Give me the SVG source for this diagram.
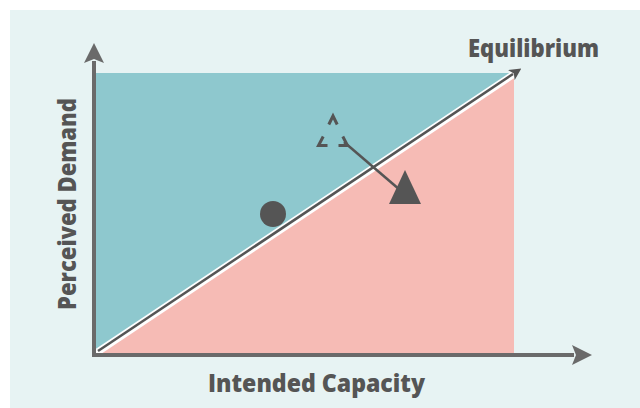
<svg xmlns="http://www.w3.org/2000/svg" width="640" height="408" viewBox="0 0 640 408">
  <defs>
    <style>
      .lbl { font-family: "Open Sans", "Liberation Sans", sans-serif; font-weight: 800; font-size: 24px; fill: #555555; }
      .axis { stroke: #6a6a6a; stroke-width: 4; fill: none; }
      .dark { fill: #555555; }
      .chev { stroke: #555555; stroke-width: 3; fill: none; stroke-linejoin: miter; }
    </style>
    <marker id="axhead" markerUnits="userSpaceOnUse" viewBox="0 0 20 20" refX="2" refY="10" markerWidth="20" markerHeight="20" orient="auto-start-reverse">
      <path d="M0,0 L20,10 L0,20 L4,10 Z" fill="#6a6a6a"/>
    </marker>
    <marker id="eqhead" markerUnits="userSpaceOnUse" viewBox="0 0 12 12" refX="2" refY="6" markerWidth="12" markerHeight="12" orient="auto">
      <path d="M0,0 L12,6 L0,12 L3,6 Z" fill="#555555"/>
    </marker>
  </defs>

  <rect x="0" y="0" width="640" height="408" fill="#ffffff"/>
  <rect x="10" y="10" width="630" height="398" fill="#e7f3f3"/>

  <g id="regions">
    <rect x="96" y="73" width="418" height="280" fill="#8ec8ce"/>
    <polygon points="96,353 514,353 514,73" fill="#f6bbb5"/>
  </g>

  <g id="connectors">
    <line x1="96" y1="353" x2="514" y2="74" stroke="#ffffff" stroke-width="7"/>
    <line x1="98" y1="351" x2="513" y2="74" stroke="#555555" stroke-width="2.5" marker-end="url(#eqhead)"/>
    <polyline class="axis" points="94,61 94,355 574,355" marker-start="url(#axhead)" marker-end="url(#axhead)"/>
    <line x1="344" y1="142" x2="400" y2="190" stroke="#555555" stroke-width="2.5"/>
  </g>

  <g id="dashed-triangle">
    <path class="chev" d="M328.8,124.5 L333,116 L337.2,124.5"/>
    <path class="chev" d="M323.2,136.5 L318.5,145.5 L327.5,145.5"/>
    <path class="chev" d="M338.5,145.5 L347.5,145.5 L342.8,136.5"/>
  </g>

  <g id="filled-triangle">
    <polygon class="dark" points="405,170 421,204 389,204"/>
  </g>

  <g id="circle">
    <circle class="dark" cx="273" cy="214" r="13"/>
  </g>

  <g id="label-equilibrium">
    <text class="lbl" x="468" y="57" textLength="131" lengthAdjust="spacingAndGlyphs">Equilibrium</text>
  </g>
  <g id="label-x">
    <text class="lbl" x="208" y="392" textLength="217" lengthAdjust="spacingAndGlyphs">Intended Capacity</text>
  </g>
  <g id="label-y">
    <text class="lbl" transform="translate(76,204) rotate(-90)" text-anchor="middle" textLength="212" lengthAdjust="spacingAndGlyphs">Perceived Demand</text>
  </g>
</svg>
